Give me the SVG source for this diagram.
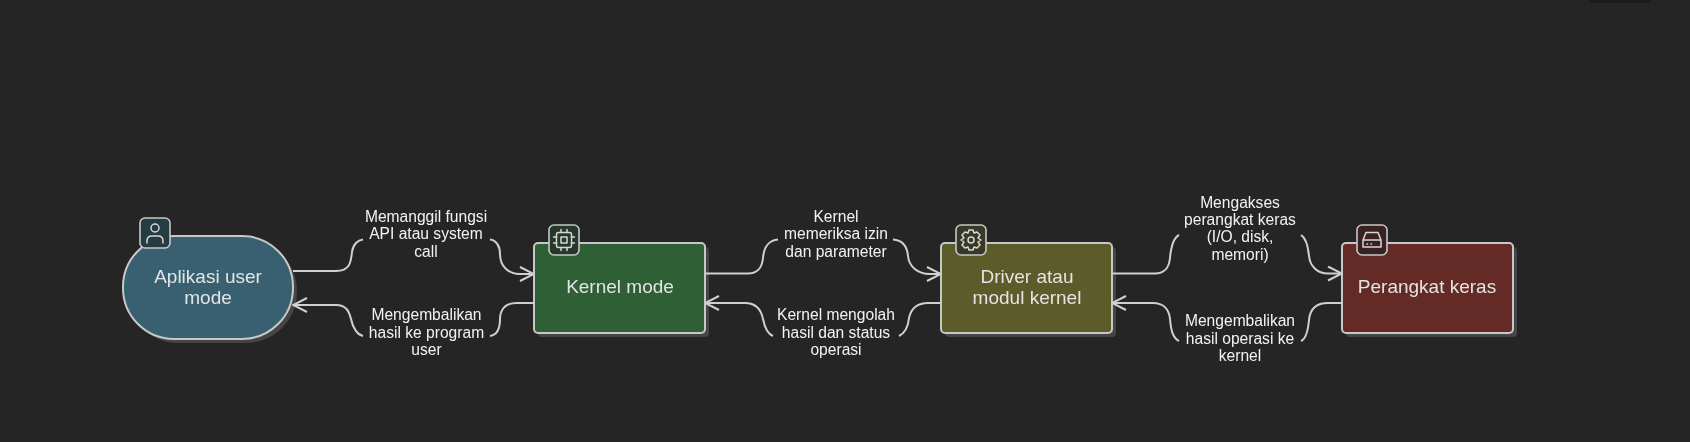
<svg xmlns="http://www.w3.org/2000/svg" width="1690" height="442" viewBox="0 0 1690 442">
<style>
text{font-family:"Liberation Sans",Arial,sans-serif;text-anchor:middle}
.n{stroke:#c8c8c8;stroke-width:2}
.s{fill:#454545}
.t{font-size:19px;fill:#e4e4e4}
.l{font-size:15.6px;fill:#f2f2f2}
.c{fill:none;stroke:#d0d0d0;stroke-width:2}
.b{stroke:#c8c8c8;stroke-width:1.6}
.i{fill:none;stroke:#d8d8d8;stroke-width:1.5;stroke-linecap:round;stroke-linejoin:round}
</style>
<defs>
<filter id="soft" x="-2%" y="-2%" width="104%" height="104%"><feGaussianBlur stdDeviation="0.55"/></filter>
<marker id="a" viewBox="0 0 16 16" refX="15" refY="8" markerWidth="16" markerHeight="16" markerUnits="userSpaceOnUse" orient="auto-start-reverse"><path d="M1 1 L15 8 L1 15" fill="none" stroke="#d0d0d0" stroke-width="2"/></marker>
</defs>
<rect width="1690" height="442" fill="#252525"/>
<g filter="url(#soft)">
<rect x="1589" y="-8" width="62" height="11" rx="4" fill="#1a1a1a"/>
<g id="n1">
<rect class="s" x="127" y="240" width="170" height="103" rx="51"/>
<rect class="n" x="123" y="236" width="170" height="103" rx="51" fill="#376171"/>
<rect class="b" x="140" y="218" width="30" height="30" rx="5" fill="#263a42"/>
<circle class="i" cx="155" cy="228" r="4"/><path class="i" d="M147 243V241C147 237 150 236 152 236H158C160 236 163 237 163 241V243"/>
<text class="t" x="208" y="283">Aplikasi user</text><text class="t" x="208" y="304">mode</text>
</g>
<g id="n2">
<rect class="s" x="538" y="247" width="171" height="90" rx="4"/>
<rect class="n" x="534" y="243" width="171" height="90" rx="4" fill="#2d5f35"/>
<rect class="b" x="549" y="225" width="30" height="30" rx="5" fill="#26382b"/>
<rect class="i" x="556.500" y="232.500" width="15" height="15" rx="2"/><rect class="i" x="561" y="237" width="6" height="6"/><path class="i" d="M561 229.500v3M567 229.500v3M561 247.500v3M567 247.500v3M553.500 237h3M553.500 243h3M571.500 237h3M571.500 243h3"/>
<text class="t" x="620" y="293">Kernel mode</text>
</g>
<g id="n3">
<rect class="s" x="945" y="247" width="171" height="90" rx="4"/>
<rect class="n" x="941" y="243" width="171" height="90" rx="4" fill="#5b5b2a"/>
<rect class="b" x="956" y="225" width="30" height="30" rx="5" fill="#383827"/>
<circle class="i" cx="971" cy="240" r="3"/><path class="i" d="M969 230L973 230L974 233L977 232L980 235L978 238L981 240L978 242L980 245L977 248L974 247L973 250H969L968 247L965 248L962 245L964 242L961 240L964 238L962 235L965 232L968 233Z"/>
<text class="t" x="1027" y="283">Driver atau</text><text class="t" x="1027" y="304">modul kernel</text>
</g>
<g id="n4">
<rect class="s" x="1346" y="247" width="171" height="90" rx="4"/>
<rect class="n" x="1342" y="243" width="171" height="90" rx="4" fill="#642a27"/>
<rect class="b" x="1357" y="225" width="30" height="30" rx="5" fill="#3a2424"/>
<path class="i" d="M1363 240L1366 232.500H1378L1381 240M1363 240H1381V247H1363Z"/><path class="i" d="M1367 244h.5M1371 244h.5"/>
<text class="t" x="1427" y="293">Perangkat keras</text>
</g>
<g id="connectors">
<path class="c" d="M293 271H336C350 271 351 262 352 252C353 244 358 240 363 239.5"/>
<path class="c" marker-end="url(#a)" d="M490 239.5C496 240 500 246 500 254C500 266 508 274 520 274H534"/>
<path class="c" marker-start="url(#a)" d="M293 305H336C346 305 349 311 351 319C353 329 358 335 363 336"/>
<path class="c" d="M490 336C497 335 500 329 500 319C500 310 505 303 516 303H534"/>
<path class="c" d="M705 273.500H748C758 273.500 762 268 763 258C764 246 770 240 778 239.500"/>
<path class="c" marker-end="url(#a)" d="M893 239.500C902 240 907 246 908 256C909 266 917 274 930 274H941"/>
<path class="c" marker-start="url(#a)" d="M705 303H745C756 303 761 309 763 319C765 329 768 334 773 336"/>
<path class="c" d="M899 336C905 333 908 328 909 318C911 309 916 303 928 303H941"/>
<path class="c" d="M1112 273.500H1155C1165 273.500 1169 268 1170 258C1171 247 1173 238 1179 235"/>
<path class="c" marker-end="url(#a)" d="M1301 235C1306 238 1308 246 1309 256C1310 266 1317 273.500 1328 273.500H1342"/>
<path class="c" marker-start="url(#a)" d="M1112 303H1153C1163 303 1169 309 1170 319C1171 331 1173 338 1179 341"/>
<path class="c" d="M1301 341C1306 339 1308 331 1309 320C1310 309 1316 303 1328 303H1342"/>
</g>
<g id="labels">
<text class="l" x="426" y="222">Memanggil fungsi</text><text class="l" x="426" y="239.300">API atau system</text><text class="l" x="426" y="256.700">call</text>
<text class="l" x="426.500" y="320.300">Mengembalikan</text><text class="l" x="426.500" y="337.700">hasil ke program</text><text class="l" x="426.500" y="355">user</text>
<text class="l" x="836" y="222">Kernel</text><text class="l" x="836" y="239.300">memeriksa izin</text><text class="l" x="836" y="256.700">dan parameter</text>
<text class="l" x="836" y="320.300">Kernel mengolah</text><text class="l" x="836" y="337.700">hasil dan status</text><text class="l" x="836" y="355">operasi</text>
<text class="l" x="1240" y="207.500">Mengakses</text><text class="l" x="1240" y="225">perangkat keras</text><text class="l" x="1240" y="242.300">(I/O, disk,</text><text class="l" x="1240" y="259.700">memori)</text>
<text class="l" x="1240" y="326">Mengembalikan</text><text class="l" x="1240" y="343.500">hasil operasi ke</text><text class="l" x="1240" y="361">kernel</text>
</g>
</g>
</svg>
